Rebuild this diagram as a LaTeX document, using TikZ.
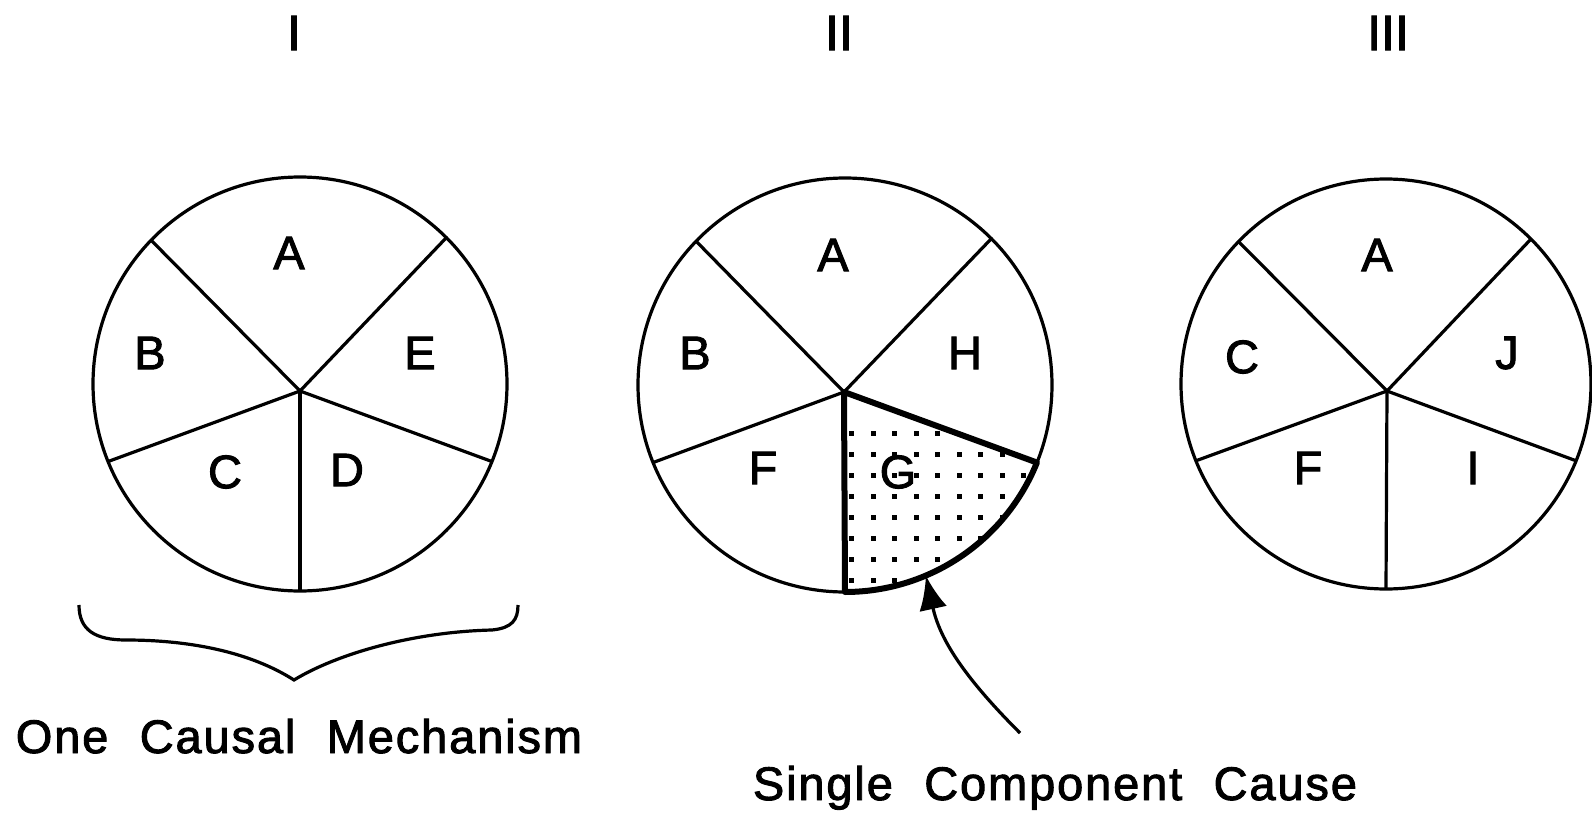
\documentclass[tikz,border=0pt]{standalone}
\usepackage{fontspec}
\setmainfont{Liberation Sans}
\newfontfamily\heavy[FakeBold=2]{Liberation Sans}
\newfontfamily\capfont[WordSpace=2.1,LetterSpace=4,FakeBold=2]{Liberation Sans}
\usetikzlibrary{arrows.meta}

\begin{document}
\begin{tikzpicture}[x=0.5pt,y=-0.5pt,
  pie/.style={circle,draw,line width=1.6pt,inner sep=0pt,outer sep=0pt,minimum size=207pt},
  spoke/.style={line width=1.6pt},
  sector/.style={line width=3pt,line join=round},
  letter/.style={font=\heavy\fontsize{23.5}{28}\selectfont},
  numeral/.style={font=\heavy\fontsize{25}{30}\selectfont},
  caption/.style={font=\capfont\fontsize{23.5}{28}\selectfont,anchor=base},
  pointer/.style={line width=1.6pt,-{Latex[length=17pt,width=14pt]}}]
\useasboundingbox (0,0) rectangle (1592,813);

\node[numeral] (n1) at (294,33) {I};
\node[numeral] (n2) at (839,33) {II};
\node[numeral] (n3) at (1388,33) {III};

\node[pie] (c1) at (300,384) {};
\node[pie] (c2) at (845,385) {};
\node[pie,minimum size=205pt] (c3) at (1386,384) {};

\coordinate (h1) at (300,391);
\coordinate (h2) at (844,392);
\coordinate (h3) at (1387,391);

\begin{scope}
\clip (h2) -- (c2.270) arc[start angle=90,end angle=22,radius=207] -- cycle;
\foreach \i in {0,...,9}
  \foreach \j in {0,...,8}
    \fill (849+21.5*\i,431+21*\j) rectangle +(5,5);
\end{scope}

\foreach \n in {1,2,3}
  \foreach \a in {45,136,202,270,338}
    \draw[spoke] (h\n) -- (c\n.\a);

\draw[sector] (h2) -- (c2.270) arc[start angle=90,end angle=22,radius=207] -- cycle;

\node[letter] (a1) at (289,253) {A};
\node[letter] (b1) at (150,353) {B};
\node[letter] (e1) at (420,353) {E};
\node[letter] (c1l) at (225,472) {C};
\node[letter] (d1) at (347,470) {D};

\node[letter] (a2) at (833,255) {A};
\node[letter] (b2) at (695,353) {B};
\node[letter] (h2l) at (965,353) {H};
\node[letter] (f2) at (763,468) {F};
\node[letter] (g2) at (898,472) {G};

\node[letter] (a3) at (1377,255) {A};
\node[letter] (c3l) at (1242,357) {C};
\node[letter] (j3) at (1507,353) {J};
\node[letter] (f3) at (1308,468) {F};
\node[letter] (i3) at (1473,468) {I};

\coordinate (bl) at (79,605);
\coordinate (bt) at (294,680);
\coordinate (br) at (518,605);
\draw[spoke] (bl) .. controls (79,630) and (95,640) .. (126,640)
  .. controls (190,640) and (250,652) .. (bt)
  .. controls (335,655) and (410,632) .. (492,630)
  .. controls (512,628) and (518,620) .. (br);

\node[caption] (t1) at (299,753) {One Causal Mechanism};
\node[caption] (t2) at (1055,800) {Single Component Cause};

\coordinate (tail) at (1020,733);
\draw[pointer] (tail) .. controls (965,678) and (940,640) .. (c2.293);
\end{tikzpicture}
\end{document}
